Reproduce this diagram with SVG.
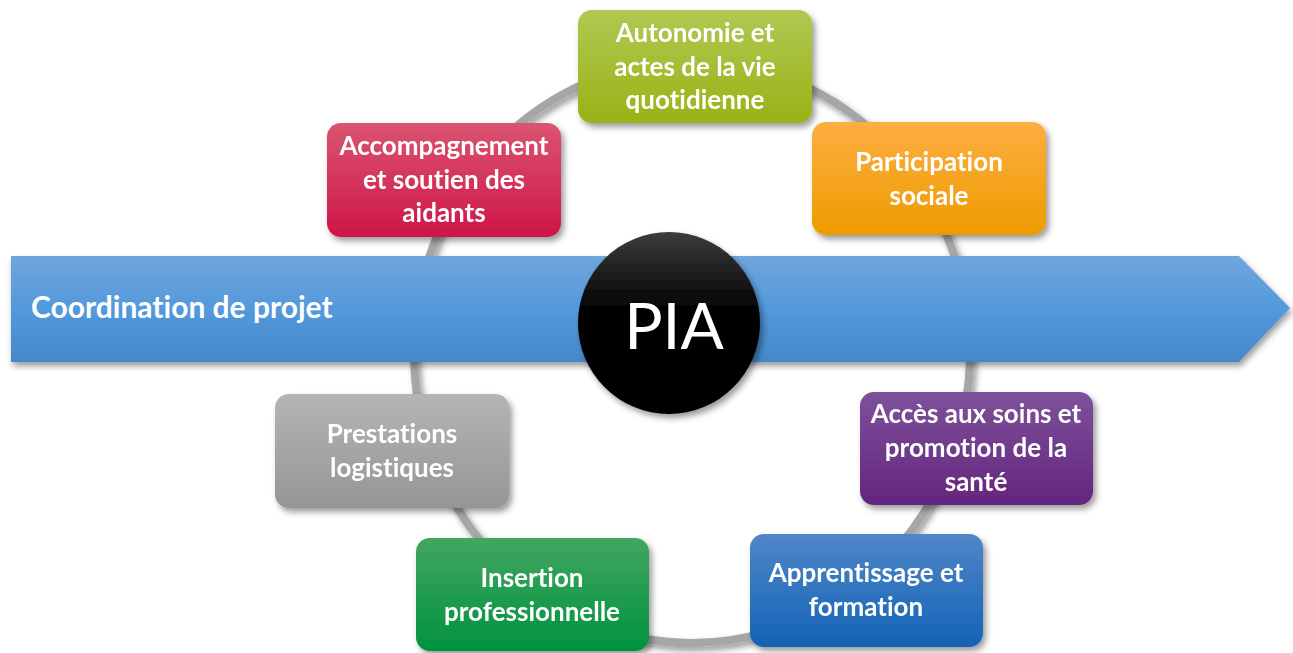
<svg xmlns="http://www.w3.org/2000/svg" width="1293" height="653" viewBox="0 0 1293 653">
<defs>
<style>
.lbl{font-family:Lato,"Open Sans","Liberation Sans",sans-serif;font-weight:700;font-size:26px;fill:#ffffff;text-anchor:middle;font-variant-ligatures:none;font-feature-settings:"liga" 0}
.box{filter:url(#sh)}
</style>
<filter id="sh" x="-20%" y="-20%" width="150%" height="160%">
<feDropShadow dx="3" dy="4" stdDeviation="3" flood-color="#000" flood-opacity="0.4"/>
</filter>
<filter id="sh2" x="-10%" y="-20%" width="120%" height="160%">
<feDropShadow dx="2" dy="4" stdDeviation="3" flood-color="#000" flood-opacity="0.4"/>
</filter>
<linearGradient id="gGreen" x1="0" y1="0" x2="0" y2="1"><stop offset="0" stop-color="#b1c852"/><stop offset="1" stop-color="#98b316"/></linearGradient>
<linearGradient id="gRed" x1="0" y1="0" x2="0" y2="1"><stop offset="0" stop-color="#da5470"/><stop offset="1" stop-color="#cf1548"/></linearGradient>
<linearGradient id="gOrange" x1="0" y1="0" x2="0" y2="1"><stop offset="0" stop-color="#fdae40"/><stop offset="1" stop-color="#ee9b00"/></linearGradient>
<linearGradient id="gPurple" x1="0" y1="0" x2="0" y2="1"><stop offset="0" stop-color="#7e519b"/><stop offset="1" stop-color="#64257e"/></linearGradient>
<linearGradient id="gBlue" x1="0" y1="0" x2="0" y2="1"><stop offset="0" stop-color="#4f86c8"/><stop offset="1" stop-color="#1363b6"/></linearGradient>
<linearGradient id="gDGreen" x1="0" y1="0" x2="0" y2="1"><stop offset="0" stop-color="#42a562"/><stop offset="1" stop-color="#00933e"/></linearGradient>
<linearGradient id="gGray" x1="0" y1="0" x2="0" y2="1"><stop offset="0" stop-color="#b5b5b5"/><stop offset="1" stop-color="#959595"/></linearGradient>
<linearGradient id="gArrow" x1="0" y1="0" x2="0" y2="1"><stop offset="0" stop-color="#70a6db"/><stop offset="0.5" stop-color="#5399db"/><stop offset="1" stop-color="#4587c9"/></linearGradient>
<linearGradient id="gPia" x1="0" y1="0" x2="0" y2="1"><stop offset="0" stop-color="#3c3c3c"/><stop offset="0.45" stop-color="#000"/><stop offset="1" stop-color="#000"/></linearGradient>
</defs>

<g id="connectors">
<ellipse cx="692" cy="352" rx="278" ry="291" fill="none" stroke="#a6a6a6" stroke-width="8" filter="url(#sh)"/>
</g>

<g id="coordination">
<path d="M11 256 H1239 L1290 308 L1239 362 H11 Z" fill="url(#gArrow)" filter="url(#sh2)"/>
<text class="lbl" x="31" y="318" style="text-anchor:start;font-size:30px">Coordination de projet</text>
</g>

<g id="pia">
<circle cx="669" cy="323" r="91" fill="url(#gPia)" filter="url(#sh)"/>
<text x="674" y="349" style="font-family:Lato,'Open Sans','Liberation Sans',sans-serif;font-size:64px;fill:#fff;text-anchor:middle">PIA</text>
</g>

<g id="autonomie" class="box">
<rect x="578" y="10" width="234" height="113" rx="14" fill="url(#gGreen)"/>
<text class="lbl" x="695" y="42">Autonomie et</text>
<text class="lbl" x="695" y="76">actes de la vie</text>
<text class="lbl" x="695" y="109">quotidienne</text>
</g>

<g id="accompagnement" class="box">
<rect x="327" y="123" width="234" height="114" rx="14" fill="url(#gRed)"/>
<text class="lbl" x="444" y="155">Accompagnement</text>
<text class="lbl" x="444" y="189">et soutien des</text>
<text class="lbl" x="444" y="222">aidants</text>
</g>

<g id="participation" class="box">
<rect x="812" y="122" width="234" height="113" rx="14" fill="url(#gOrange)"/>
<text class="lbl" x="929" y="171">Participation</text>
<text class="lbl" x="929" y="205">sociale</text>
</g>

<g id="acces" class="box">
<rect x="860" y="392" width="233" height="113" rx="14" fill="url(#gPurple)"/>
<text class="lbl" x="976" y="423">Accès aux soins et</text>
<text class="lbl" x="976" y="457">promotion de la</text>
<text class="lbl" x="976" y="491">santé</text>
</g>

<g id="prestations" class="box">
<rect x="275" y="394" width="234" height="114" rx="14" fill="url(#gGray)"/>
<text class="lbl" x="392" y="443">Prestations</text>
<text class="lbl" x="392" y="477">logistiques</text>
</g>

<g id="insertion" class="box">
<rect x="416" y="538" width="233" height="113" rx="14" fill="url(#gDGreen)"/>
<text class="lbl" x="532" y="587">Insertion</text>
<text class="lbl" x="532" y="621">professionnelle</text>
</g>

<g id="apprentissage" class="box">
<rect x="750" y="534" width="233" height="113" rx="14" fill="url(#gBlue)"/>
<text class="lbl" x="866" y="582">Apprentissage et</text>
<text class="lbl" x="866" y="616">formation</text>
</g>
</svg>
